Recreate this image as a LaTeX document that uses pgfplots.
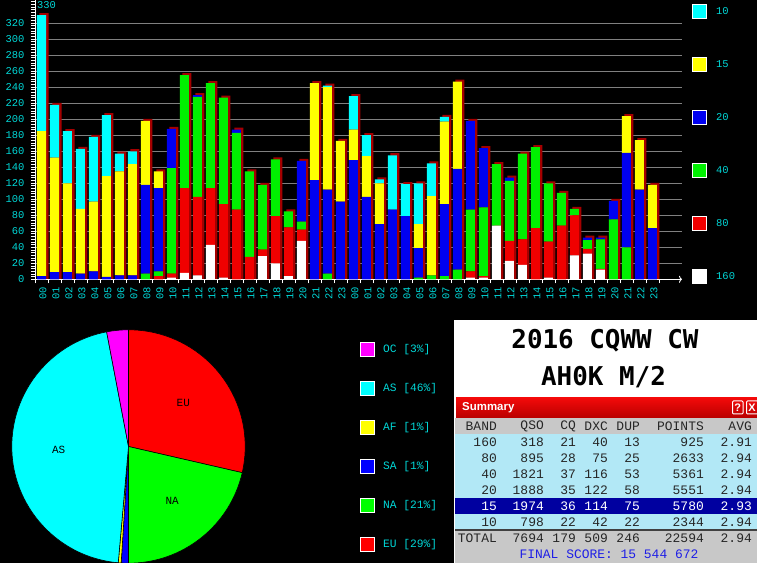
\documentclass[border=0pt]{standalone}
\usepackage{fontspec}
\setmainfont{Liberation Mono}
\newfontfamily\titlefont{DejaVu Sans Mono}
\newfontfamily\sansfont{Liberation Sans}
\usepackage{pgfplots}
\usepackage{pgfplotstable}
\pgfplotsset{compat=1.18}
\usetikzlibrary{arrows.meta}

\definecolor{tcyan}{RGB}{0,215,215}
\definecolor{bcyan}{RGB}{0,255,255}
\definecolor{byellow}{RGB}{255,255,0}
\definecolor{bblue}{RGB}{0,0,240}
\definecolor{bgreen}{RGB}{0,240,0}
\definecolor{bred}{RGB}{240,0,0}
\definecolor{pblue}{RGB}{0,0,255}
\definecolor{pgreen}{RGB}{0,255,0}
\definecolor{pred}{RGB}{255,0,0}
\definecolor{pmag}{RGB}{255,0,255}
\definecolor{shadow}{RGB}{165,0,0}
\definecolor{gridgray}{RGB}{128,128,128}
\definecolor{rowblue}{RGB}{178,232,246}
\definecolor{rowgray}{RGB}{200,200,200}
\definecolor{navy}{RGB}{0,0,160}
\definecolor{scoreblue}{RGB}{30,30,230}

% QSOs per hour and band: 160 80 40 20 15 10, t = hour total
\pgfplotstableread{
x w r g b y c t
0 0 0 0 4 181 145 330
1 0 0 0 9 143 66 218
2 0 0 0 9 111 65 185
3 0 0 0 7 81 75 163
4 0 0 0 10 87 81 178
5 0 0 0 3 126 76 205
6 0 0 0 5 130 22 157
7 0 0 0 5 139 16 160
8 0 0 7 111 80 0 198
9 0 4 6 104 21 0 135
10 2 5 132 49 0 0 188
11 8 106 141 0 0 0 255
12 5 98 125 2 0 0 230
13 43 71 131 0 0 0 245
14 2 92 133 0 0 0 227
15 0 87 96 4 0 0 187
16 0 28 107 0 0 0 135
17 29 8 81 0 0 0 118
18 20 59 71 0 0 0 150
19 4 61 20 0 0 0 85
20 48 14 10 76 0 0 148
21 0 0 0 124 121 0 245
22 0 0 7 105 128 2 242
23 0 0 0 97 76 0 173
24 0 0 0 149 38 42 229
25 0 0 0 103 51 26 180
26 0 0 0 69 51 5 125
27 0 0 0 87 0 68 155
28 0 0 0 79 0 40 119
29 0 0 2 37 30 51 120
30 0 0 5 0 99 41 145
31 0 0 4 90 103 6 203
32 0 0 12 126 109 0 247
33 2 8 77 111 0 0 198
34 2 2 86 74 0 0 164
35 67 0 77 0 0 0 144
36 23 25 75 4 0 0 127
37 18 32 107 0 0 0 157
38 0 64 101 0 0 0 165
39 2 45 73 0 0 0 120
40 0 67 41 0 0 0 108
41 30 50 8 0 0 0 88
42 32 6 11 3 0 0 52
43 12 1 37 2 0 0 52
44 0 0 75 23 0 0 98
45 0 0 40 118 46 0 204
46 0 0 0 112 62 0 174
47 0 0 0 64 54 0 118
}\bands

\newcommand\trow[9]{%
  \node[anchor=east,text=#2] at (497bp,#1bp) {#3};
  \node[anchor=east,text=#2] at (544bp,#1bp) {#4};
  \node[anchor=east,text=#2] at (576bp,#1bp) {#5};
  \node[anchor=east,text=#2] at (608bp,#1bp) {#6};
  \node[anchor=east,text=#2] at (640bp,#1bp) {#7};
  \node[anchor=east,text=#2] at (704bp,#1bp) {#8};
  \node[anchor=east,text=#2] at (752bp,#1bp) {#9};}

\pgfplotsset{
  hourgeom/.style={at={(35bp,283.7bp)}, anchor=south west, scale only axis,
    width=647bp, height=279.3bp, xmin=-0.5, xmax=49.27, ymin=0, ymax=349},
}

\begin{document}
\begin{tikzpicture}
\path[use as bounding box] (0,0) rectangle (757bp,563bp);
\fill[black] (0,0) rectangle (757bp,563bp);

% grid and bar shadows
\begin{axis}[hourgeom,
  axis line style={draw=none}, xtick=\empty, ytick={20,40,...,320},
  yticklabels={}, tick style={draw=none}, ymajorgrids,
  major grid style={gridgray, line width=0.9bp}]
\addplot[ybar, bar width=9bp, bar shift=2.5bp, fill=shadow, draw=none]
  table[x=x, y expr=\thisrow{t}+2.5]{\bands};
\end{axis}

% stacked QSO bars
\begin{axis}[hourgeom,
  ybar stacked, bar width=9bp,
  axis x line*=bottom, axis y line*=left,
  axis line style={white, line width=0.9bp},
  x axis line style={-{To[length=3bp,width=7bp]}},
  xtick={0,...,47},
  xticklabels={00,01,02,03,04,05,06,07,08,09,10,11,12,13,14,15,16,17,18,19,20,21,22,23,00,01,02,03,04,05,06,07,08,09,10,11,12,13,14,15,16,17,18,19,20,21,22,23},
  major x tick style={draw=none},
  minor xtick={-0.5,0.5,...,47.5},
  ytick={0,20,...,320},
  minor ytick={0,3.33333,...,346},
  tick align=outside, major tick length=4bp, minor tick length=4bp,
  tick style={white, line width=0.9bp},
  /pgf/number format/assume math mode=true,
  yticklabel style={text=tcyan, font=\fontsize{10.5}{12}\selectfont, xshift=-3bp},
  xticklabel style={text=tcyan, font=\fontsize{10.5}{12}\selectfont, rotate=90, anchor=east, yshift=-1.5bp},
  clip=false]
\addplot[fill=white, draw=none] table[x=x, y=w]{\bands};
\addplot[fill=bred, draw=none] table[x=x, y=r]{\bands};
\addplot[fill=bgreen, draw=none] table[x=x, y=g]{\bands};
\addplot[fill=bblue, draw=none] table[x=x, y=b]{\bands};
\addplot[fill=byellow, draw=none] table[x=x, y=y]{\bands};
\addplot[fill=bcyan, draw=none] table[x=x, y=c]{\bands};
\node[anchor=base west, inner sep=0, text=tcyan, font=\fontsize{10.5}{12}\selectfont]
  at (axis cs:-0.35,338) {330};
\end{axis}

% band legend
\begin{scope}[font=\fontsize{10.5}{12}\selectfont]
\foreach \c/\l/\yy in {bcyan/10/551.7, byellow/15/498.5, bblue/20/446, bgreen/40/393, bred/80/339.5, white/160/286.5}{
  \filldraw[fill=\c, draw=white, line width=0.8bp] (692.5bp,\yy bp-7bp) rectangle (706.5bp,\yy bp+7bp);
  \node[anchor=west, inner sep=0, text=tcyan] at (716bp,\yy bp) {\l};
}
\end{scope}

% continent pie
\begin{axis}[at={(128.5bp,116.5bp)}, anchor=center, scale only axis,
  width=233.4bp, height=233.4bp, xmin=-1, xmax=1, ymin=-1, ymax=1,
  hide axis, clip=false]
\pgfplotsextra{%
  \gdef\pieang{90}%
  \foreach \v/\c/\l in {28.6/pred/EU, 21.4/pgreen/NA, 1.0/pblue/, 0.4/byellow/, 45.6/bcyan/AS, 3.0/pmag/}{%
    \pgfmathsetmacro\pend{\pieang-3.6*\v}%
    \pgfmathsetmacro\pmid{(\pieang+\pend)/2}%
    \fill[\c, draw=black, line width=0.6bp] (axis cs:0,0) -- ++(\pieang:116.7bp)
      arc[start angle=\pieang, end angle=\pend, radius=116.7bp] -- cycle;
    \path (axis cs:0,0) ++(\pmid:70bp) node[text=black, font=\fontsize{11}{12}\selectfont] {\l};
    \xdef\pieang{\pend}%
  }%
}
\end{axis}

% pie legend
\begin{scope}[font=\fontsize{11.3}{13}\selectfont]
\foreach \c/\l/\yy in {pmag/OC [3\%]/213.5, bcyan/AS [46\%]/174.5, byellow/AF [1\%]/135.5, pblue/SA [1\%]/96.5, pgreen/NA [21\%]/57.5, pred/EU [29\%]/18.5}{
  \filldraw[fill=\c, draw=white, line width=0.8bp] (360.5bp,\yy bp-7.3bp) rectangle (374.5bp,\yy bp+7.3bp);
  \node[anchor=west, inner sep=0, text=tcyan] at (383bp,\yy bp) {\l};
}
\end{scope}

% summary panel
\fill[white] (454bp,0) rectangle (757bp,243bp);
\node[font=\titlefont\bfseries\fontsize{26}{28}\selectfont, inner sep=0] at (605bp,222bp) {2016 CQWW CW};
\node[font=\titlefont\bfseries\fontsize{26}{28}\selectfont, inner sep=0] at (603.5bp,186bp) {AH0K M/2};
\shade[top color={rgb,255:red,245;green,10;blue,10}, bottom color={rgb,255:red,185;green,0;blue,0}]
  (456bp,145.3bp) rectangle (757bp,165.7bp);
\node[anchor=west, inner sep=0, text=white, font=\sansfont\bfseries\fontsize{11.5}{13}\selectfont] at (462bp,155.5bp) {Summary};
\draw[white, line width=1bp, rounded corners=1bp] (732.5bp,149bp) rectangle (743bp,162bp);
\node[text=white, inner sep=0, font=\sansfont\bfseries\fontsize{11}{12}\selectfont] at (737.8bp,155.5bp) {?};
\draw[white, line width=1bp, rounded corners=1bp] (746.5bp,149bp) rectangle (758bp,162bp);
\node[text=white, inner sep=0, font=\sansfont\bfseries\fontsize{11}{12}\selectfont] at (752bp,155.5bp) {X};
\fill[rowgray] (455bp,129bp) rectangle (757bp,145.3bp);
\fill[rowblue] (455bp,33.7bp) rectangle (757bp,129bp);
\fill[navy] (455bp,49bp) rectangle (757bp,64.7bp);
\fill[black!75] (455bp,32bp) rectangle (757bp,33.7bp);
\fill[rowgray] (455bp,0) rectangle (757bp,32bp);
\begin{scope}[font=\fontsize{13}{15}\selectfont, inner sep=0]
\trow{137}{black!85}{BAND}{QSO}{CQ}{DXC}{DUP}{POINTS}{AVG}
\trow{121}{black!85}{160}{318}{21}{40}{13}{925}{2.91}
\trow{105}{black!85}{80}{895}{28}{75}{25}{2633}{2.94}
\trow{89}{black!85}{40}{1821}{37}{116}{53}{5361}{2.94}
\trow{73}{black!85}{20}{1888}{35}{122}{58}{5551}{2.94}
\trow{57}{white}{15}{1974}{36}{114}{75}{5780}{2.93}
\trow{41}{black!85}{10}{798}{22}{42}{22}{2344}{2.94}
\trow{25}{black!85}{TOTAL}{7694}{179}{509}{246}{22594}{2.94}
\node[text=scoreblue] at (609bp,9bp) {FINAL SCORE: 15 544 672};
\end{scope}
\end{tikzpicture}
\end{document}
